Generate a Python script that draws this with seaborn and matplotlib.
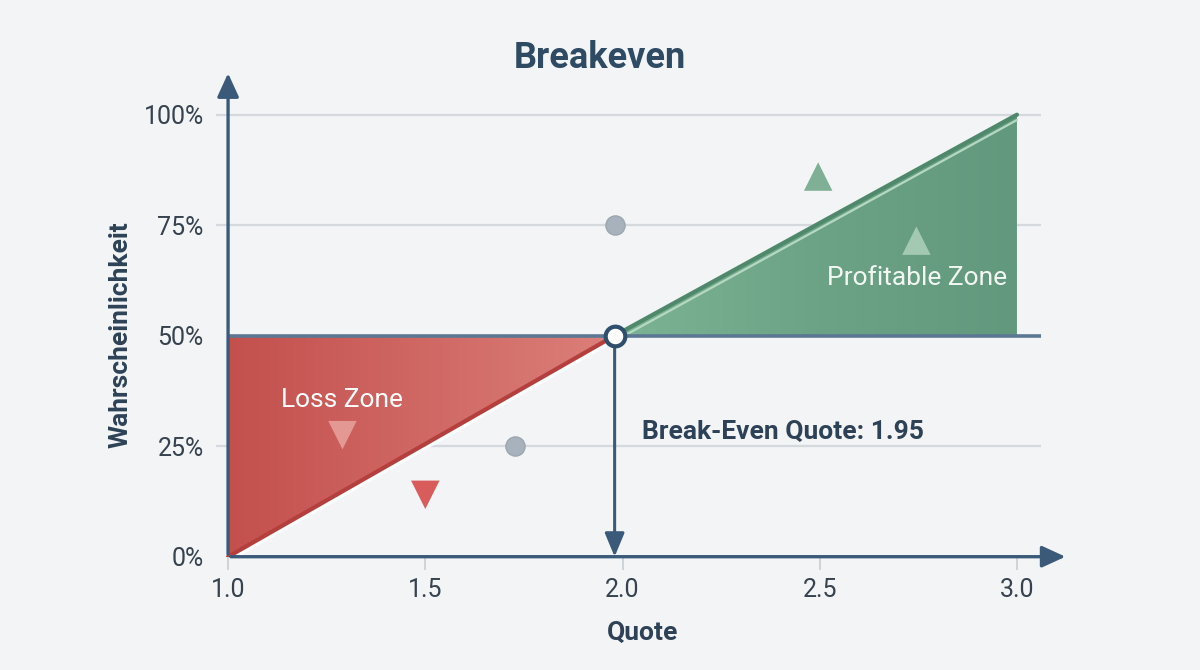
import numpy as np
import pandas as pd
import seaborn as sns
import matplotlib.pyplot as plt
from matplotlib.colors import LinearSegmentedColormap
from matplotlib.patches import Polygon

# data
quote_ticks = [1.0, 1.5, 2.0, 2.5, 3.0]
prob_ticks = [0, 25, 50, 75, 100]
breakeven_x = 1.98
breakeven_y = 50
breakeven_text = "Break-Even Quote: 1.95"

loss_x = [1.0, 1.98]
loss_y = [0, 50]
profit_x = [1.98, 3.0]
profit_y = [50, 100]

dot_x = [1.98, 1.727]
dot_y = [75, 25]
loss_mark_x = [1.29, 1.5]
loss_mark_y = [27.5, 14]
loss_mark_kind = ["inside", "outside"]
profit_mark_x = [2.496, 2.745]
profit_mark_y = [86, 71.5]
profit_mark_kind = ["outside", "inside"]

sns.set_theme(style="white")
plt.rcParams['font.family'] = ['Roboto', 'DejaVu Sans']

axis_col = "#3b5a7a"
text_col = "#2e4257"

fig = plt.figure(figsize=(12, 6.7), dpi=100, facecolor="#f2f4f6")
ax = fig.add_axes([0.1802, 0.1691, 0.71, 0.7257])
ax.set_facecolor("none")
ax.set_xlim(0.97, 3.13)
ax.set_ylim(0, 110)
for s in ax.spines.values():
    s.set_visible(False)

# grid lines
ax.hlines([25, 75, 100], 0.97, 3.06, color="#d5d9dd", lw=1.6, zorder=1)

# loss zone with horizontal gradient
red_cmap = LinearSegmentedColormap.from_list("red", ["#c3504d", "#dc7f7a"])
grad = np.linspace(0, 1, 256).reshape(1, -1)
im = ax.imshow(grad, cmap=red_cmap, aspect="auto", extent=[1.0, breakeven_x, 0, 50], zorder=2)
poly = Polygon([[1.0, 0], [breakeven_x, 50], [1.0, 50]], closed=True, transform=ax.transData)
im.set_clip_path(poly)

# profitable zone with light gradient
green_cmap = LinearSegmentedColormap.from_list("green", ["#7db395", "#6ca386", "#62997e"])
im2 = ax.imshow(grad, cmap=green_cmap, aspect="auto", extent=[breakeven_x, 3.0, 50, 100], zorder=2)
poly2 = Polygon([[breakeven_x, 50], [3.0, 100], [3.0, 50]], closed=True, transform=ax.transData)
im2.set_clip_path(poly2)

# edges of the zones
line_df = pd.DataFrame({"x": loss_x, "y": loss_y})
ax.plot(loss_x, [v - 1.0 for v in loss_y], color="white", lw=2, zorder=3)
sns.lineplot(data=line_df, x="x", y="y", color="#b53f3d", lw=3, ax=ax, zorder=4)
prof_df = pd.DataFrame({"x": profit_x, "y": profit_y})
ax.plot(profit_x, [v - 1.2 for v in profit_y], color="#b5d8c3", lw=1.6, zorder=3)
sns.lineplot(data=prof_df, x="x", y="y", color="#4f886a", lw=3, ax=ax, zorder=4)

# 50% line
ax.hlines(breakeven_y, 1.0, 3.06, color="#5c7793", lw=2.6, zorder=5)

# axes with arrows
ax.annotate("", xy=(1.0, 110), xytext=(1.0, 0),
            arrowprops=dict(arrowstyle="-|>,head_length=1.2,head_width=0.55", color=axis_col, lw=2.4), zorder=6)
ax.annotate("", xy=(3.13, 0), xytext=(1.0, 0),
            arrowprops=dict(arrowstyle="-|>,head_length=1.2,head_width=0.55", color=axis_col, lw=2.4), zorder=6)
ax.annotate("", xy=(breakeven_x, 0), xytext=(breakeven_x, breakeven_y),
            arrowprops=dict(arrowstyle="-|>,head_length=1.2,head_width=0.5", color=axis_col, lw=2.2,
                            shrinkA=0, shrinkB=0), zorder=6)

# markers
dots = pd.DataFrame({"x": dot_x, "y": dot_y})
sns.scatterplot(data=dots, x="x", y="y", s=190, color="#a8b2bc", edgecolor="#9ba6b1", lw=1, ax=ax, zorder=7)
lm = pd.DataFrame({"x": loss_mark_x, "y": loss_mark_y, "kind": loss_mark_kind})
sns.scatterplot(data=lm, x="x", y="y", hue="kind", palette={"inside": "#e39893", "outside": "#d85c5a"},
                marker="v", s=420, lw=0, ax=ax, legend=False, zorder=7)
pm = pd.DataFrame({"x": profit_mark_x, "y": profit_mark_y, "kind": profit_mark_kind})
sns.scatterplot(data=pm, x="x", y="y", hue="kind", palette={"inside": "#a3c9b2", "outside": "#7fb095"},
                marker="^", s=420, lw=0, ax=ax, legend=False, zorder=7)

# break-even point
ax.scatter([breakeven_x], [breakeven_y], s=200, color="white", edgecolor="#2f4f6d", lw=3, zorder=8)

# text
ax.text(1.29, 35.5, "Loss Zone", color="white", fontsize=19, ha="center", va="center", zorder=9)
ax.text(2.747, 63, "Profitable Zone", color="#f2f7f3", fontsize=19, ha="center", va="center", zorder=9)
ax.text(2.05, 28.2, breakeven_text, color=text_col, fontsize=19, fontweight="bold", ha="left", va="center", zorder=9)

ax.set_xticks(quote_ticks)
ax.set_xticklabels([f"{v:.1f}" for v in quote_ticks])
ax.set_yticks(prob_ticks)
ax.set_yticklabels([f"{v}%" for v in prob_ticks])
ax.tick_params(axis="x", bottom=True, length=9, width=1.2, color="#c9ced3", pad=6, labelsize=18, labelcolor="#37424f")
ax.tick_params(axis="y", left=False, length=0, pad=9, labelsize=18, labelcolor="#37424f")

ax.set_xlabel("Quote", fontsize=19, fontweight="bold", color=text_col, labelpad=14)
ax.set_ylabel("Wahrscheinlichkeit", fontsize=19, fontweight="bold", color=text_col)
ax.yaxis.set_label_coords(-0.098, 0.457)

fig.text(0.5, 1 - 58 / 670, "Breakeven", fontsize=26, fontweight="bold", color="#2f4a63", ha="center", va="center")

fig.savefig("out.png", dpi=100, facecolor=fig.get_facecolor())
